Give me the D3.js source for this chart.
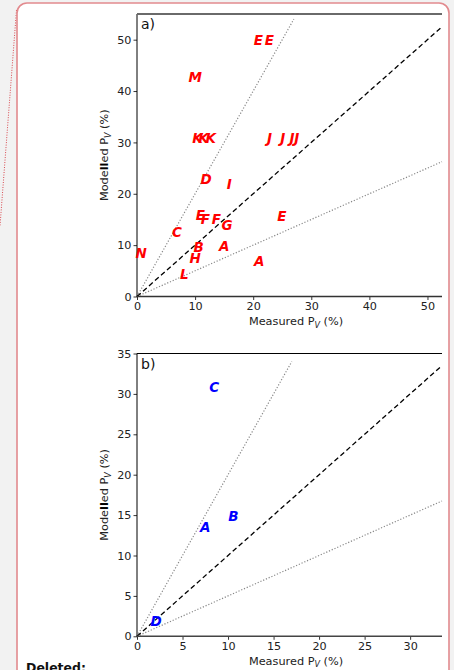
<!DOCTYPE html>
<html><head><meta charset="utf-8">
<script src="https://cdn.jsdelivr.net/npm/d3@7"></script>
<style>
html,body{margin:0;padding:0;background:#f2f2f2;}
svg{display:block;}
text{font-family:"DejaVu Sans",sans-serif;}
</style></head>
<body>
<svg id="c" width="454" height="670"></svg>
<script>
// ---- data: panel a ----
const labelsA   = ["E","E","M","K","K","K","J","J","J","J","D","I","E","F","F","G","E","C","N","B","A","H","A","L"];
const measuredA = [20.9,22.8,10.0,10.4,11.45,12.7,22.8,25.1,26.7,27.5,11.9,15.9,10.9,11.75,13.65,15.5,24.95,6.9,0.7,10.6,15.0,10.0,21.05,8.15];
const modelledA = [50.0,50.0,42.7,30.9,30.9,30.9,30.9,30.9,30.9,30.9,22.9,21.8,15.8,15.1,15.1,13.8,15.65,12.5,8.45,9.6,9.8,7.5,6.9,4.3];
const xTicksA = [0,10,20,30,40,50];
const yTicksA = [0,10,20,30,40,50];
// ---- data: panel b ----
const labelsB   = ["C","A","B","D"];
const measuredB = [8.49,7.5,10.6,2.1];
const modelledB = [30.8,13.5,14.85,1.9];
const xTicksB = [0,5,10,15,20,25,30];
const yTicksB = [0,5,10,15,20,25,30,35];

const svg = d3.select("#c");

// comment box
svg.append("rect").attr("x",0).attr("y",0).attr("width",454).attr("height",670).attr("fill","#f2f2f2");
svg.append("line").attr("x1",16.5).attr("y1",10).attr("x2",0).attr("y2",226)
  .attr("stroke","#d9484f").attr("stroke-width",1).attr("stroke-dasharray","1,1.5");
svg.append("rect").attr("x",17).attr("y",3).attr("width",432).attr("height",720).attr("rx",10)
  .attr("fill","#fff").attr("stroke","#e28a8e").attr("stroke-width",1.6);
svg.append("text").attr("x",26).attr("y",672).attr("font-size",12.5).attr("font-weight","bold")
  .attr("fill","#111").text("Deleted:");

function panel(cfg){
  const {left,right,top,bottom,xMax,yMax,xTicks,yTicks,labels,mx,my,color,tag,dot2End,topStroke,topW,botStroke,botW} = cfg;
  const x = d3.scaleLinear().domain([0,xMax]).range([left,right]);
  const y = d3.scaleLinear().domain([0,yMax]).range([bottom,top]);
  const g = svg.append("g");
  // reference lines
  const line = d3.line().x(d=>x(d[0])).y(d=>y(d[1]));
  g.append("path").attr("d",line([[0,0],[dot2End,dot2End*2]])).attr("fill","none")
    .attr("stroke","#888").attr("stroke-width",1.2).attr("stroke-dasharray","1.2,1.8");
  g.append("path").attr("d",line([[0,0],[xMax,xMax*0.5]])).attr("fill","none")
    .attr("stroke","#888").attr("stroke-width",1.2).attr("stroke-dasharray","1.2,1.8");
  g.append("path").attr("d",line([[0,0],[xMax,xMax]])).attr("fill","none")
    .attr("stroke","#000").attr("stroke-width",1.3).attr("stroke-dasharray","5,3");
  // axes
  const xa = g.append("g").attr("transform",`translate(0,${bottom})`)
    .call(d3.axisBottom(x).tickValues(xTicks).tickSize(3.5).tickPadding(2).tickFormat(d3.format("d")));
  const ya = g.append("g").attr("transform",`translate(${left},0)`)
    .call(d3.axisLeft(y).tickValues(yTicks).tickSize(3.5).tickPadding(2).tickFormat(d3.format("d")));
  [xa,ya].forEach(a=>{
    a.select(".domain").remove();
    a.selectAll("text").attr("font-size",11.2).attr("fill","#222").attr("font-family","DejaVu Sans");
    a.selectAll("line").attr("stroke","#000").attr("stroke-width",0.8);
  });
  // spines
  g.append("line").attr("x1",left).attr("x2",left).attr("y1",top).attr("y2",bottom+0.5).attr("stroke","#000").attr("stroke-width",1);
  g.append("line").attr("x1",left).attr("x2",right).attr("y1",bottom).attr("y2",bottom).attr("stroke",botStroke).attr("stroke-width",botW);
  g.append("line").attr("x1",left).attr("x2",right).attr("y1",top).attr("y2",top).attr("stroke",topStroke).attr("stroke-width",topW);
  // points as letters
  g.selectAll("text.pt").data(labels.map((l,i)=>({l,x:mx[i],y:my[i]}))).join("text")
    .attr("class","pt").attr("x",d=>x(d.x)).attr("y",d=>y(d.y)).attr("dy","0.36em")
    .attr("text-anchor","middle").attr("font-size",13.5).attr("font-weight","bold").attr("font-style","italic")
    .attr("fill",color).text(d=>d.l);
  // tag
  g.append("text").attr("x",left+4).attr("y",top+15).attr("font-size",14).attr("fill","#111").text(tag);
  // x label
  const xl = g.append("text").attr("x",296).attr("y",bottom+28.5).attr("text-anchor","middle")
    .attr("font-size",11.3).attr("fill","#222");
  xl.append("tspan").text("Measured P");
  xl.append("tspan").attr("dy",2.5).attr("font-size",8).attr("font-style","italic").text("V");
  xl.append("tspan").attr("dy",-2.5).text(" (%)");
  // y label
  const cy = (top+bottom)/2;
  const yl = g.append("text").attr("transform",`translate(108,${cy}) rotate(-90)`).attr("text-anchor","middle")
    .attr("font-size",11.3).attr("fill","#222");
  yl.append("tspan").text("Mode");
  yl.append("tspan").attr("font-weight","bold").attr("fill","#000").text("ll");
  yl.append("tspan").text("ed P");
  yl.append("tspan").attr("dy",2.5).attr("font-size",8).attr("font-style","italic").text("V");
  yl.append("tspan").attr("dy",-2.5).text(" (%)");
}

panel({left:137,right:442,top:14,bottom:296.5,xMax:52.5,yMax:55,xTicks:xTicksA,yTicks:yTicksA,
  labels:labelsA,mx:measuredA,my:modelledA,color:"#ff0000",tag:"a)",dot2End:27,
  topStroke:"#6a6a6a",topW:2,botStroke:"#333",botW:1.5});
panel({left:137,right:442,top:353.5,bottom:636.3,xMax:33.5,yMax:35,xTicks:xTicksB,yTicks:yTicksB,
  labels:labelsB,mx:measuredB,my:modelledB,color:"#0000ff",tag:"b)",dot2End:17,
  topStroke:"#000",topW:1.2,botStroke:"#444",botW:1.6});
</script>
</body></html>
